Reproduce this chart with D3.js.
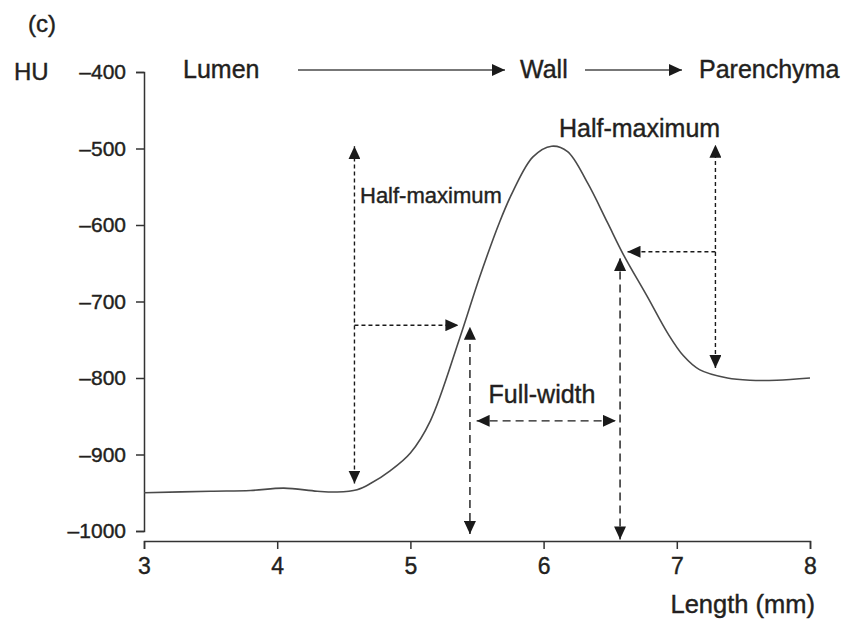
<!DOCTYPE html>
<html>
<head>
<meta charset="utf-8">
<script src="https://cdn.jsdelivr.net/npm/d3@7"></script>
<style>
  body { margin: 0; background: #fff; }
  text { font-family: "Liberation Sans", Arial, sans-serif; fill: #231f20; stroke: #231f20; stroke-width: 0.4px; }
</style>
</head>
<body>
<svg id="chart" width="844" height="619"></svg>
<script>
// profile across the airway: length (mm) vs attenuation (HU)
const lengthMm = [3, 3.5, 3.8, 4.05, 4.3, 4.45, 4.6, 4.7, 4.85, 5.0, 5.15, 5.37, 5.52, 5.67, 5.77,
                  5.92, 6.06, 6.18, 6.33, 6.48, 6.6, 6.78, 6.93, 7.05, 7.17, 7.38, 7.55, 7.75, 8.0];
const hu = [-950, -948, -947, -944, -948, -949, -946, -938, -921, -898, -856, -748, -668, -596, -556,
            -511, -497, -504, -545, -597, -639, -694, -741, -771, -789, -800, -803, -803, -800];

const xTicks = [3, 4, 5, 6, 7, 8];
const yTicks = [-1000, -900, -800, -700, -600, -500, -400];

// annotation arrows in data units: [x1, hu1, x2, hu2, headAtStart, headAtEnd]
const fineArrows = [
  [4.58, -938, 4.58, -497, true, true],
  [4.58, -731, 5.36, -731, false, true],
  [7.29, -787, 7.29, -495, true, true],
  [7.29, -635, 6.63, -635, false, true]
];
const coarseArrows = [
  [5.447, -1004, 5.447, -733, true, true],
  [6.574, -1011, 6.574, -643, true, true],
  [5.497, -856, 6.543, -856, true, true]
];
const flowLabels = ["Lumen", "Wall", "Parenchyma"];

const svg = d3.select("#chart");

const x = d3.scaleLinear().domain([3, 8]).range([144, 810]);
const y = d3.scaleLinear().domain([-1000, -400]).range([531, 72]);

const dash = d => "\u2013" + Math.abs(d);

// arrow head
svg.append("defs").append("marker")
  .attr("id", "head")
  .attr("viewBox", "0 0 13 12")
  .attr("refX", 13).attr("refY", 6)
  .attr("markerWidth", 13).attr("markerHeight", 12)
  .attr("markerUnits", "userSpaceOnUse")
  .attr("orient", "auto-start-reverse")
  .append("path")
  .attr("d", "M0,0 L13,6 L0,12 Z")
  .attr("fill", "#1a1a1a");

// axes
const yAxis = d3.axisLeft(y).tickValues(yTicks).tickFormat(dash).tickSizeOuter(0).tickSize(8).tickPadding(10);
const xAxis = d3.axisBottom(x).tickValues(xTicks).tickFormat(d3.format("d")).tickSizeOuter(0).tickSize(8).tickPadding(9);

const gy = svg.append("g").attr("transform", "translate(144,0)").call(yAxis);
const gx = svg.append("g").attr("transform", "translate(0,541)").call(xAxis);
[gy, gx].forEach(g => {
  g.select(".domain").attr("stroke", "#333").attr("stroke-width", 1.5);
  g.selectAll(".tick line").attr("stroke", "#333").attr("stroke-width", 1.5);
  g.selectAll(".tick text").attr("fill", "#231f20");
});
gy.selectAll(".tick text").style("font-size", "21px");
gx.selectAll(".tick text").style("font-size", "23px");

// the profile curve
const line = d3.line()
  .x((d, i) => x(lengthMm[i]))
  .y(d => y(d))
  .curve(d3.curveCatmullRom.alpha(0.5));

svg.append("path")
  .datum(hu)
  .attr("d", line)
  .attr("fill", "none")
  .attr("stroke", "#4a4a4a")
  .attr("stroke-width", 1.6);

function drawArrows(list, dashes) {
  svg.append("g").selectAll("line")
    .data(list)
    .join("line")
    .attr("x1", d => x(d[0])).attr("y1", d => y(d[1]))
    .attr("x2", d => x(d[2])).attr("y2", d => y(d[3]))
    .attr("stroke", "#1a1a1a")
    .attr("stroke-width", 1.4)
    .attr("stroke-dasharray", dashes)
    .attr("marker-start", d => d[4] ? "url(#head)" : null)
    .attr("marker-end", d => d[5] ? "url(#head)" : null);
}
drawArrows(fineArrows, "4,3");
drawArrows(coarseArrows, "8,5");

// labels
svg.append("text").attr("x", 28).attr("y", 32).style("font-size", "24px").text("(c)");
svg.append("text").attr("x", 14).attr("y", 80).style("font-size", "24px").text("HU");

svg.append("text").attr("x", 360).attr("y", 203).style("font-size", "22px").text("Half-maximum");
svg.append("text").attr("x", 559).attr("y", 137).style("font-size", "25px").text("Half-maximum");
svg.append("text").attr("x", 542).attr("y", 403).attr("text-anchor", "middle").style("font-size", "25px").text("Full-width");
svg.append("text").attr("x", 815).attr("y", 613).attr("text-anchor", "end").style("font-size", "25.5px").text("Length (mm)");

// Lumen -> Wall -> Parenchyma
const flowX = [183, 520, 699];
svg.append("g").selectAll("text")
  .data(flowLabels)
  .join("text")
  .attr("x", (d, i) => flowX[i])
  .attr("y", 78)
  .style("font-size", "25px")
  .text(d => d);

svg.append("g").selectAll("line")
  .data([[298, 505], [585, 682]])
  .join("line")
  .attr("x1", d => d[0]).attr("x2", d => d[1])
  .attr("y1", 70).attr("y2", 70)
  .attr("stroke", "#4a4a4a")
  .attr("stroke-width", 1.5)
  .attr("marker-end", "url(#head)");
</script>
</body>
</html>
